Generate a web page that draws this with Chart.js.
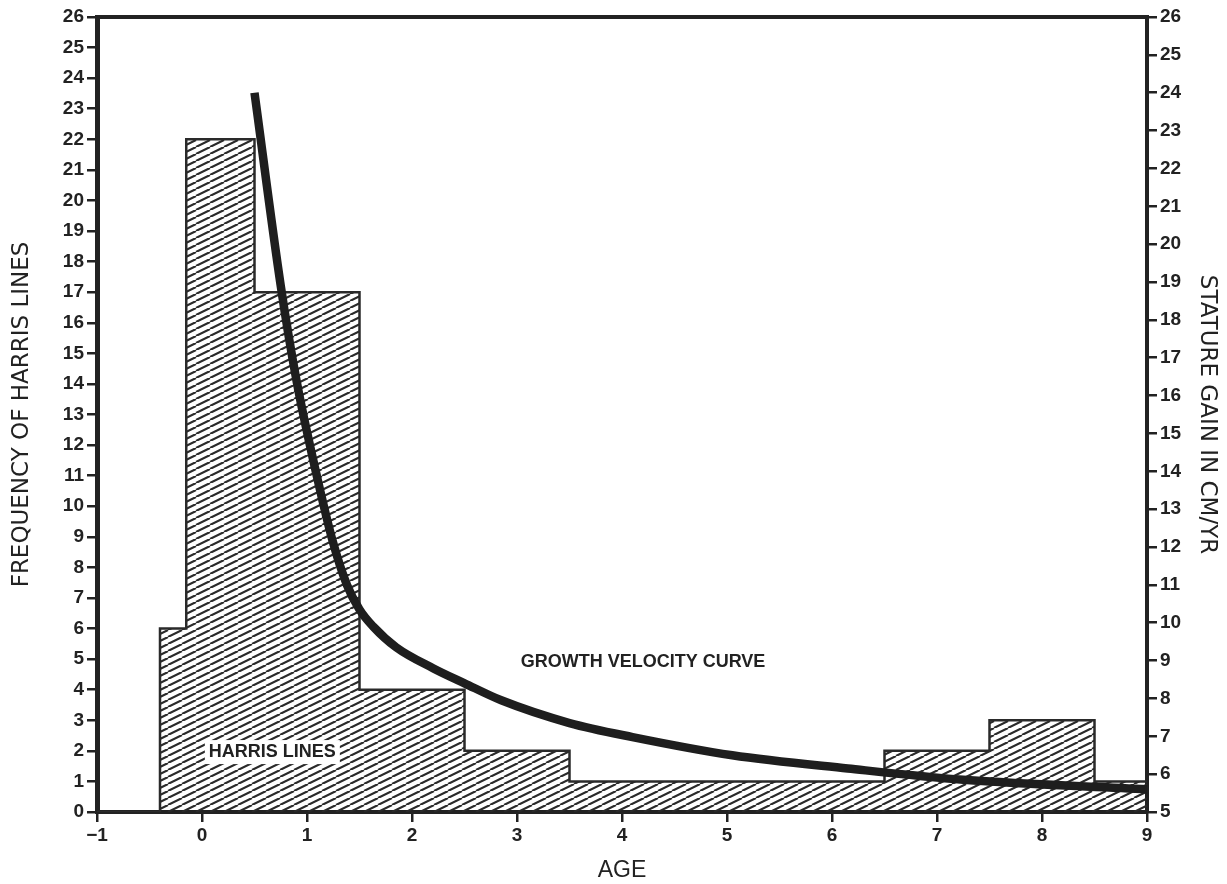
<!DOCTYPE html>
<html>
<head>
<meta charset="utf-8">
<script src="https://cdn.jsdelivr.net/npm/chart.js@4/dist/chart.umd.min.js"></script>
<style>
  body { margin: 0; background: #fff; }
  #wrap { width: 1227px; height: 884px; }
</style>
</head>
<body>
<div id="wrap"><canvas id="chart"></canvas></div>
<script>
// histogram of Harris lines: bin edges (age) and counts per bin
const ageEdges = [-1, -0.4, -0.15, 0.5, 1.5, 2.5, 3.5, 4.5, 5.5, 6.5, 7.5, 8.5, 9];
const harrisCounts = [0, 6, 22, 17, 4, 2, 1, 1, 1, 2, 3, 1];

// growth velocity curve (right axis, cm/yr)
const growthAges = [0.5, 0.75, 0.9, 1.1, 1.25, 1.38, 1.5, 1.63, 1.85, 2.2, 2.5, 2.85, 3.5, 4.1, 5.05, 6.15, 7.25, 9];
const growthGain = [24.0, 18.9, 16.4, 13.8, 12.1, 11.0, 10.35, 9.9, 9.35, 8.8, 8.4, 7.95, 7.35, 6.98, 6.5, 6.15, 5.85, 5.6];

const ageTicks = [-1, 0, 1, 2, 3, 4, 5, 6, 7, 8, 9];

const ink = '#222';
const tickFont = { family: 'Liberation Sans', size: 19, weight: 'bold' };
const titleFont = { family: 'DejaVu Sans', size: 23 };

function makeHatch() {
    const w = 14, h = 7;
    const c = document.createElement('canvas');
    c.width = w;
    c.height = h;
    const g = c.getContext('2d');
    g.strokeStyle = '#2a2a2a';
    g.lineWidth = 2.1;
    g.beginPath();
    g.moveTo(0, h); g.lineTo(w, 0);
    g.moveTo(-w, h); g.lineTo(0, 0);
    g.moveTo(w, h); g.lineTo(2 * w, 0);
    g.stroke();
    return g.createPattern(c, 'repeat');
}

const histPoints = ageEdges.map((x, i) => ({
    x: x,
    y: i < harrisCounts.length ? harrisCounts[i] : harrisCounts[harrisCounts.length - 1]
}));
const growthPoints = growthAges.map((x, i) => ({ x: x, y: growthGain[i] }));

// text labels inside the plot
const notes = [
    { text: 'GROWTH VELOCITY CURVE', x: 4.2, y: 4.9, box: false },
    { text: 'HARRIS LINES', x: 0.67, y: 1.96, box: true }
];

const notesPlugin = {
    id: 'notes',
    afterDatasetsDraw(chart) {
        const ctx = chart.ctx;
        const xs = chart.scales.x, ys = chart.scales.y;
        ctx.save();
        ctx.font = 'bold 18px "Liberation Sans"';
        ctx.textAlign = 'center';
        ctx.textBaseline = 'middle';
        notes.forEach(n => {
            const px = xs.getPixelForValue(n.x);
            const py = ys.getPixelForValue(n.y);
            if (n.box) {
                const tw = ctx.measureText(n.text).width;
                ctx.fillStyle = '#fff';
                ctx.fillRect(px - tw / 2 - 4, py - 12, tw + 8, 24);
            }
            ctx.fillStyle = ink;
            ctx.fillText(n.text, px, py);
        });
        ctx.restore();
    }
};

function tickGrid() {
    return { display: true, drawOnChartArea: false, drawTicks: true, tickLength: 10, color: ink, lineWidth: 2.5 };
}

const chart = new Chart(document.getElementById('chart'), {
    type: 'line',
    data: {
        datasets: [
            {
                label: 'Growth velocity curve',
                data: growthPoints,
                yAxisID: 'y2',
                borderColor: '#1e1e1e',
                borderWidth: 8.5,
                borderCapStyle: 'butt',
                cubicInterpolationMode: 'monotone',
                pointRadius: 0,
                fill: false
            },
            {
                label: 'Harris lines',
                data: histPoints,
                yAxisID: 'y',
                stepped: true,
                borderColor: '#2a2a2a',
                borderWidth: 2.5,
                pointRadius: 0,
                fill: 'origin',
                backgroundColor: makeHatch()
            }
        ]
    },
    options: {
        responsive: true,
        maintainAspectRatio: false,
        animation: false,
        layout: { padding: 0 },
        plugins: {
            legend: { display: false },
            tooltip: { enabled: false }
        },
        scales: {
            x: {
                type: 'linear',
                position: 'bottom',
                min: -1,
                max: 9,
                afterBuildTicks: s => { s.ticks = ageTicks.map(v => ({ value: v })); },
                afterFit: s => { s.height = 72; },
                ticks: {
                    color: ink,
                    font: tickFont,
                    padding: 2,
                    maxRotation: 0,
                    callback: v => v < 0 ? '\u2212' + Math.abs(v) : String(v)
                },
                grid: tickGrid(),
                border: { display: true, color: ink, width: 4 },
                title: { display: true, text: 'AGE', color: ink, font: { family: 'Liberation Sans', size: 23 }, padding: { top: 8, bottom: 0 } }
            },
            x2: {
                type: 'linear',
                position: 'top',
                min: -1,
                max: 9,
                afterFit: s => { s.height = 17; },
                ticks: { display: false },
                grid: { display: false },
                border: { display: true, color: ink, width: 4 }
            },
            y: {
                position: 'left',
                min: 0,
                max: 26,
                afterFit: s => { s.width = 97; },
                ticks: { stepSize: 1, autoSkip: false, color: ink, font: tickFont, padding: 3 },
                grid: tickGrid(),
                border: { display: true, color: ink, width: 5 },
                title: { display: true, text: 'FREQUENCY OF HARRIS LINES', color: ink, font: titleFont, padding: { top: 8, bottom: 0 } }
            },
            y2: {
                position: 'right',
                min: 5,
                max: 26,
                afterFit: s => { s.width = 80; },
                ticks: { stepSize: 1, autoSkip: false, color: ink, font: tickFont, padding: 3 },
                grid: tickGrid(),
                border: { display: true, color: ink, width: 4 },
                title: { display: true, text: 'STATURE GAIN IN CM/YR', color: ink, font: titleFont, padding: { top: 6, bottom: 0 } }
            }
        }
    },
    plugins: [notesPlugin]
});
</script>
</body>
</html>
